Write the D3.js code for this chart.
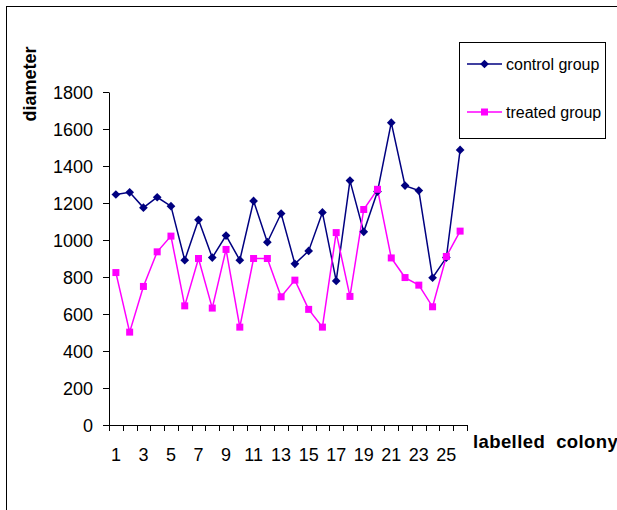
<!DOCTYPE html>
<html><head><meta charset="utf-8">
<script src="https://cdn.jsdelivr.net/npm/d3@7/dist/d3.min.js"></script>
<style>body{margin:0;background:#fff}svg{display:block}text{font-family:"Liberation Sans",Arial,sans-serif}</style>
</head><body><svg id="c" width="617" height="510"></svg>
<script>
const colonies = d3.range(1, 27);
const controlGroup = [1246,1258,1175,1231,1183,891,1109,905,1024,891,1211,988,1143,871,941,1149,779,1321,1044,1262,1634,1294,1267,796,905,1487];
const treatedGroup = [824,502,749,936,1021,644,900,632,949,529,900,900,693,783,625,529,1040,695,1165,1274,903,797,756,639,911,1048];
const yTicks = [0,200,400,600,800,1000,1200,1400,1600,1800];
const xTickLabels = [1,3,5,7,9,11,13,15,17,19,21,23,25];
const seriesNames = ["control group","treated group"];

const svg = d3.select("#c");
svg.append("rect").attr("x",6.5).attr("y",6.5).attr("width",700).attr("height",600)
  .attr("fill","none").attr("stroke","#000").attr("stroke-width",1);

const x = d3.scaleBand().domain(colonies).range([109,467]).padding(0);
const y = d3.scaleLinear().domain([0,1800]).range([425,92]);
const cx = d => x(d) + x.bandwidth()/2;

// y axis
const ya = svg.append("g").attr("transform","translate(109,0)")
  .call(d3.axisLeft(y).tickValues(yTicks).tickFormat(d3.format("d")).tickSize(6).tickPadding(10).tickSizeOuter(0));
ya.select(".domain").attr("stroke","#000");
ya.selectAll("text").attr("font-size",18).attr("fill","#000").attr("dy","0.35em");

// x axis line + boundary ticks
const g = svg.append("g");
g.append("line").attr("x1",109).attr("x2",467).attr("y1",425.5).attr("y2",425.5).attr("stroke","#000");
const bounds = colonies.map(d => x(d)).concat([x(26)+x.bandwidth()]);
g.selectAll(".xt").data(bounds).enter().append("line")
  .attr("x1",d=>Math.round(d)+0.5).attr("x2",d=>Math.round(d)+0.5).attr("y1",425).attr("y2",431).attr("stroke","#000");
g.selectAll(".xl").data(xTickLabels).enter().append("text")
  .attr("x",d=>cx(d)).attr("y",455).attr("dy","0.35em").attr("text-anchor","middle")
  .attr("font-size",18).text(d=>d);

// axis titles
svg.append("text").attr("transform","translate(30,84) rotate(-90)").attr("text-anchor","middle")
  .attr("dy","0.35em").attr("font-size",18).attr("font-weight","bold").text("diameter");
svg.append("text").attr("x",473).attr("y",442).attr("dy","0.35em")
  .attr("font-size",18.5).attr("font-weight","bold").attr("letter-spacing",0.4).style("white-space","pre").text("labelled  colony");

const line = d3.line().x((d,i)=>cx(colonies[i])).y(d=>y(d));
const navy = "#000080", mag = "#FF00FF";
const diamond = d3.symbol().type(d3.symbolSquare).size(38);
const square = d3.symbol().type(d3.symbolSquare).size(49);

svg.append("path").datum(controlGroup).attr("d",line).attr("fill","none").attr("stroke",navy).attr("stroke-width",1.5);
svg.append("path").datum(treatedGroup).attr("d",line).attr("fill","none").attr("stroke",mag).attr("stroke-width",1.5);
svg.selectAll(".cm").data(controlGroup).enter().append("path")
  .attr("transform",(d,i)=>`translate(${cx(colonies[i])},${y(d)}) rotate(45)`).attr("d",diamond).attr("fill",navy);
svg.selectAll(".tm").data(treatedGroup).enter().append("path")
  .attr("transform",(d,i)=>`translate(${cx(colonies[i])},${y(d)})`).attr("d",square).attr("fill",mag);

// legend
const lg = svg.append("g");
lg.append("rect").attr("x",459.5).attr("y",42.5).attr("width",146).attr("height",96).attr("fill","#fff").attr("stroke","#000");
[[64,navy,diamond,"rotate(45)"],[112,mag,square,""]].forEach((r,i)=>{
  lg.append("line").attr("x1",467).attr("x2",502).attr("y1",r[0]).attr("y2",r[0]).attr("stroke",r[1]).attr("stroke-width",1.5);
  lg.append("path").attr("d",r[2]).attr("transform",`translate(484.5,${r[0]}) ${r[3]}`).attr("fill",r[1]);
  lg.append("text").attr("x",506).attr("y",r[0]).attr("dy","0.35em").attr("font-size",16).text(seriesNames[i]);
});
</script></body></html>
